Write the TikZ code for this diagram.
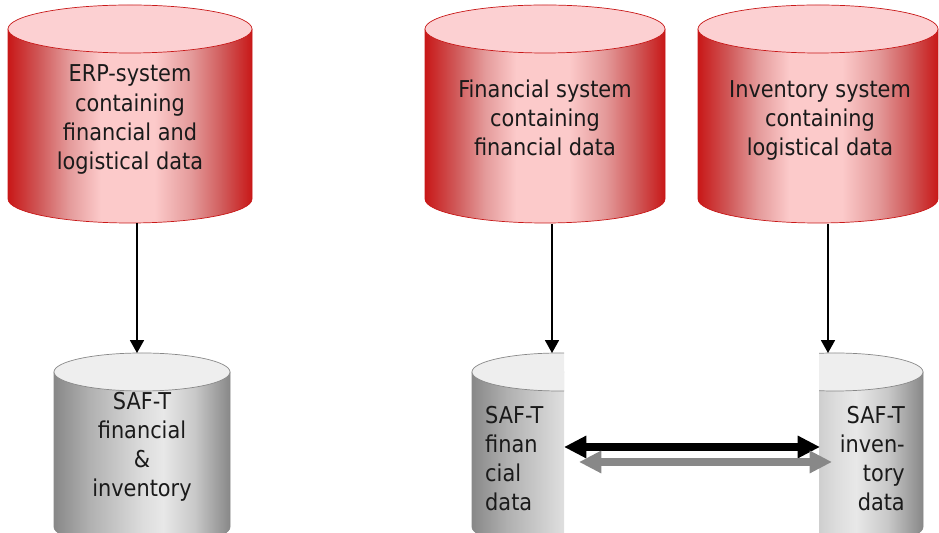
\documentclass[tikz,border=0pt]{standalone}
\usepackage{fontspec}
\setmainfont{DejaVu Sans Condensed}
\usetikzlibrary{arrows.meta}

\definecolor{cylred}{HTML}{C81818}
\definecolor{cylmid}{HTML}{D05A5A}
\definecolor{cylrose}{HTML}{E49A9A}
\definecolor{cylpink}{HTML}{FCCACA}
\definecolor{lidpink}{HTML}{FCD0D2}
\definecolor{cylgray}{HTML}{888888}
\definecolor{cylash}{HTML}{B0B0B0}
\definecolor{cylpale}{HTML}{DCDCDC}
\definecolor{cylsilver}{HTML}{E8E8E8}
\definecolor{cylsmoke}{HTML}{C8C8C8}
\definecolor{lidgray}{HTML}{EEEEEE}
\definecolor{ink}{HTML}{1A1A1A}

\pgfdeclarehorizontalshading{redshade}{100bp}{color(0bp)=(cylred); color(25bp)=(cylred); color(31.5bp)=(cylmid); color(37.5bp)=(cylrose); color(44bp)=(cylpink); color(55bp)=(cylpink); color(62.5bp)=(cylrose); color(69bp)=(cylmid); color(75bp)=(cylred); color(100bp)=(cylred)}
\pgfdeclarehorizontalshading{grayshade}{100bp}{color(0bp)=(cylgray); color(25bp)=(cylgray); color(35bp)=(cylash); color(50bp)=(cylpale); color(56bp)=(cylsilver); color(65bp)=(cylsmoke); color(75bp)=(cylgray); color(100bp)=(cylgray)}

% centre x, lid y, bottom y, half width, lid radius, colour set
\newcommand{\drum}[6]{%
  \shadedraw[#6 body] (#1-#4,#2) -- (#1-#4,#3) arc[start angle=180,end angle=360,x radius=#4,y radius=#5] -- (#1+#4,#2) -- cycle;
  \filldraw[#6 top] (#1,#2) ellipse[x radius=#4,y radius=#5];}

\begin{document}
\begin{tikzpicture}[x=0.03cm,y=0.03cm,
    red body/.style={shading=redshade,draw=cylred,line width=0.6pt},
    red top/.style={fill=lidpink,draw=cylred,line width=0.6pt},
    gray body/.style={shading=grayshade,draw=cylgray,line width=0.6pt},
    gray top/.style={fill=lidgray,draw=cylgray,line width=0.6pt},
    label node/.style={font=\fontsize{19.8}{24.8}\selectfont,text=ink,inner sep=0pt},
    feed/.style={-{Triangle[length=11pt,width=12pt]},line width=1.2pt},
    sync/.style={{Triangle[length=19pt,width=18pt]}-{Triangle[length=19pt,width=18pt]},line width=6pt}]

  \useasboundingbox (0,0) rectangle (939,533);

  \drum{130}{504}{334}{122}{24}{red}
  \drum{545}{504}{334}{120}{24}{red}
  \drum{818}{504}{334}{120}{24}{red}
  \drum{142}{161}{6}{88}{19}{gray}
  \begin{scope}
    \clip (460,0) rectangle (564,200);
    \drum{560}{161}{6}{88}{19}{gray}
  \end{scope}
  \begin{scope}
    \clip (819,0) rectangle (939,200);
    \drum{835}{161}{6}{88}{19}{gray}
  \end{scope}

  \node[label node,align=center] (erp) at (130,413.5) {ERP-system\\containing\\financial and\\logistical data};
  \node[label node,align=center] (fin) at (545,415) {Financial system\\containing\\financial data};
  \node[label node,align=center] (inv) at (820,412.5) {Inventory system\\containing\\logistical data};
  \node[label node,align=center] (safall) at (142,86) {SAF-T\\financial\\\&\\inventory};
  \node[label node,align=left,anchor=west] (saffin) at (485,74.5) {SAF-T\\finan\\cial\\data};
  \node[label node,align=right,anchor=east] (safinv) at (905,74.5) {SAF-T\\inven-\\tory\\data};

  \coordinate (erp out) at (137,310);
  \coordinate (safall in) at (137,180);
  \coordinate (fin out) at (552,309);
  \coordinate (saffin in) at (552,180);
  \coordinate (inv out) at (828,309);
  \coordinate (safinv in) at (828,180);
  \coordinate (saffin link) at (564,86);
  \coordinate (safinv link) at (820,86);
  \coordinate (saffin back) at (579,71);
  \coordinate (safinv back) at (832,71);

  \draw[feed] (erp out) -- (safall in);
  \draw[feed] (fin out) -- (saffin in);
  \draw[feed] (inv out) -- (safinv in);
  \draw[sync] (saffin link) -- (safinv link);
  \draw[sync,cylgray] (saffin back) -- (safinv back);
\end{tikzpicture}
\end{document}
